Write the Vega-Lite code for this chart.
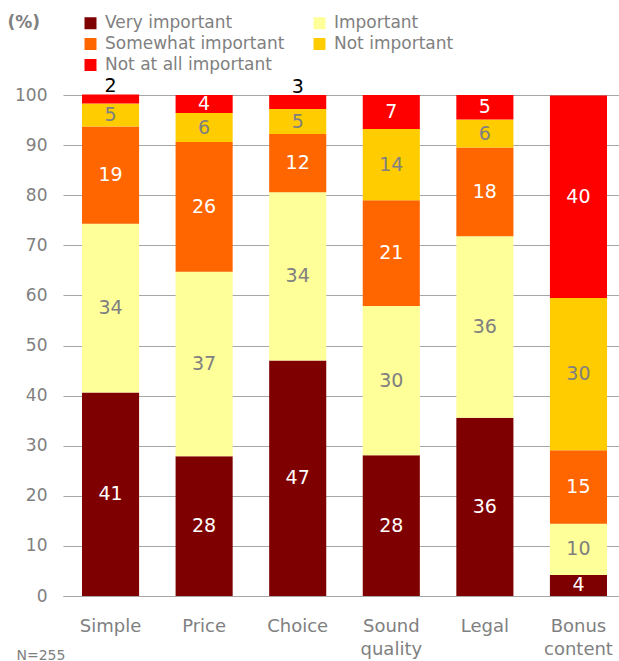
{
  "$schema": "https://vega.github.io/schema/vega-lite/v6.json",
  "width": 556,
  "height": 501,
  "autosize": {"type": "none"},
  "padding": {"left": 63, "top": 95, "right": 0, "bottom": 65},
  "background": "white",
  "config": {"view": {"stroke": null}, "font": "DejaVu Sans"},
  "data": {
    "values": [
      {"item": "Simple", "level": "Very important", "code": 1, "value": 40.6},
      {"item": "Simple", "level": "Important", "code": 2, "value": 33.7},
      {"item": "Simple", "level": "Somewhat important", "code": 3, "value": 19.4},
      {"item": "Simple", "level": "Not important", "code": 4, "value": 4.6},
      {"item": "Simple", "level": "Not at all important", "code": 5, "value": 1.8},
      {"item": "Price", "level": "Very important", "code": 1, "value": 27.9},
      {"item": "Price", "level": "Important", "code": 2, "value": 36.8},
      {"item": "Price", "level": "Somewhat important", "code": 3, "value": 25.9},
      {"item": "Price", "level": "Not important", "code": 4, "value": 5.8},
      {"item": "Price", "level": "Not at all important", "code": 5, "value": 3.6},
      {"item": "Choice", "level": "Very important", "code": 1, "value": 47.0},
      {"item": "Choice", "level": "Important", "code": 2, "value": 33.6},
      {"item": "Choice", "level": "Somewhat important", "code": 3, "value": 11.6},
      {"item": "Choice", "level": "Not important", "code": 4, "value": 5.0},
      {"item": "Choice", "level": "Not at all important", "code": 5, "value": 2.8},
      {"item": "Sound quality", "level": "Very important", "code": 1, "value": 28.1},
      {"item": "Sound quality", "level": "Important", "code": 2, "value": 29.8},
      {"item": "Sound quality", "level": "Somewhat important", "code": 3, "value": 21.1},
      {"item": "Sound quality", "level": "Not important", "code": 4, "value": 14.2},
      {"item": "Sound quality", "level": "Not at all important", "code": 5, "value": 6.8},
      {"item": "Legal", "level": "Very important", "code": 1, "value": 35.6},
      {"item": "Legal", "level": "Important", "code": 2, "value": 36.2},
      {"item": "Legal", "level": "Somewhat important", "code": 3, "value": 17.7},
      {"item": "Legal", "level": "Not important", "code": 4, "value": 5.6},
      {"item": "Legal", "level": "Not at all important", "code": 5, "value": 4.9},
      {"item": "Bonus content", "level": "Very important", "code": 1, "value": 4.2},
      {"item": "Bonus content", "level": "Important", "code": 2, "value": 10.2},
      {"item": "Bonus content", "level": "Somewhat important", "code": 3, "value": 14.7},
      {"item": "Bonus content", "level": "Not important", "code": 4, "value": 30.4},
      {"item": "Bonus content", "level": "Not at all important", "code": 5, "value": 40.4}
    ]
  },
  "encoding": {
    "x": {
      "field": "item",
      "type": "nominal",
      "sort": ["Simple", "Price", "Choice", "Sound quality", "Legal", "Bonus content"],
      "scale": {"paddingInner": 0.39, "paddingOuter": 0.1656, "align": 0.613},
      "axis": {
        "title": "N=255",
        "titleX": -47,
        "titleY": 59,
        "titleAlign": "left",
        "titleBaseline": "middle",
        "titleFontSize": 14,
        "titleFontWeight": "normal",
        "titleColor": "#808080",
        "labelAngle": 0,
        "labelExpr": "split(datum.label, ' ')",
        "labelFontSize": 18,
        "labelLineHeight": 23,
        "labelColor": "#808080",
        "labelPadding": 21,
        "ticks": false,
        "tickSize": 0,
        "domain": true,
        "domainColor": "#a6a6a6",
        "domainWidth": 1
      }
    }
  },
  "layer": [
    {
      "mark": {"type": "bar"},
      "encoding": {
        "y": {
          "field": "value",
          "type": "quantitative",
          "stack": "zero",
          "scale": {"domain": [0, 100], "nice": false},
          "axis": {
            "title": "(%)",
            "titleX": -56,
            "titleY": -73,
            "titleAngle": 0,
            "titleAlign": "left",
            "titleBaseline": "middle",
            "titleFontSize": 17,
            "titleFontWeight": "bold",
            "titleColor": "#808080",
            "values": [0, 10, 20, 30, 40, 50, 60, 70, 80, 90, 100],
            "grid": true,
            "gridColor": "#a6a6a6",
            "gridWidth": 1,
            "domain": false,
            "ticks": false,
            "labelFontSize": 17,
            "labelColor": "#808080",
            "labelPadding": 16
          }
        },
        "order": {"field": "code", "type": "quantitative", "sort": "ascending"},
        "color": {
          "field": "level",
          "type": "nominal",
          "scale": {
            "domain": ["Very important", "Important", "Somewhat important", "Not important", "Not at all important"],
            "range": ["#7f0000", "#ffff99", "#ff6600", "#ffcc00", "#ff0000"]
          },
          "legend": {
            "title": null,
            "orient": "none",
            "legendX": 19,
            "legendY": -80.5,
            "direction": "horizontal",
            "columns": 2,
            "columnPadding": 26,
            "rowPadding": 3,
            "symbolType": "square",
            "symbolSize": 144,
            "symbolStrokeWidth": 0,
            "labelFontSize": 17,
            "labelColor": "#808080",
            "labelOffset": 6,
            "labelLimit": 400,
            "padding": 0
          }
        }
      }
    },
    {
      "mark": {"type": "text", "fontSize": 19, "baseline": "middle", "align": "center"},
      "encoding": {
        "y": {"field": "value", "type": "quantitative", "stack": "zero", "bandPosition": 0.5},
        "detail": {"field": "level"},
        "order": {"field": "code", "type": "quantitative", "sort": "ascending"},
        "text": {
          "field": "value",
          "type": "quantitative",
          "format": ".0f",
          "condition": {"test": "datum.value < 3", "value": ""}
        },
        "color": {
          "condition": {"test": "datum.level === 'Important' || datum.level === 'Not important'", "value": "#808080"},
          "value": "white"
        }
      }
    },
    {
      "transform": [
        {"joinaggregate": [{"op": "sum", "field": "value", "as": "total"}], "groupby": ["item"]},
        {"filter": "datum.value < 3"}
      ],
      "mark": {"type": "text", "fontSize": 19, "baseline": "alphabetic", "align": "center", "dy": -2, "color": "black"},
      "encoding": {
        "y": {"field": "total", "type": "quantitative"},
        "text": {"field": "value", "type": "quantitative", "format": ".0f"}
      }
    }
  ]
}
